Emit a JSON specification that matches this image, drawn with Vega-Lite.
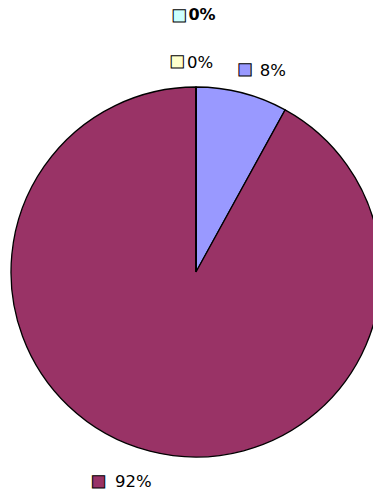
{
  "$schema": "https://vega.github.io/schema/vega-lite/v6.json",
  "autosize": "none",
  "width": 354,
  "height": 444,
  "padding": {"left": 19, "top": 50, "right": 0, "bottom": 0},
  "background": "white",
  "view": {"stroke": null},
  "data": {"values": [
    {"cat": "A", "value": 8, "idx": 1, "label": "8%"},
    {"cat": "B", "value": 92, "idx": 2, "label": "92%"},
    {"cat": "C", "value": 0, "idx": 3, "label": "0%"},
    {"cat": "D", "value": 0, "idx": 4, "label": "0%"}
  ]},
  "encoding": {
    "theta": {"field": "value", "type": "quantitative", "stack": true},
    "order": {"field": "idx", "type": "quantitative"},
    "color": {"field": "cat", "type": "nominal", "legend": null,
      "scale": {"domain": ["A", "B", "C", "D"], "range": ["#9999FF", "#993366", "#FFFFCC", "#CCFFFF"]}}
  },
  "layer": [
    {"mark": {"type": "arc", "outerRadius": 185, "stroke": "black", "strokeWidth": 1.3}},
    {"mark": {"type": "text", "radius": 208, "dx": 25, "dy": 0, "fill": "black", "font": "DejaVu Sans", "fontSize": 16.5, "align": "center", "baseline": "middle"},
     "encoding": {"text": {"condition": {"test": "datum.cat === 'A'", "field": "label"}, "value": ""}}},
    {"mark": {"type": "text", "radius": 208, "dx": -3, "dy": -2, "stroke": "black", "strokeWidth": 1, "font": "DejaVu Sans", "fontSize": 16, "align": "center", "baseline": "middle"},
     "encoding": {"text": {"condition": {"test": "datum.cat === 'A'", "value": "■"}, "value": ""}}},
    {"mark": {"type": "text", "radius": 216, "dx": -9, "dy": 1, "fill": "black", "font": "DejaVu Sans", "fontSize": 16.5, "align": "center", "baseline": "middle"},
     "encoding": {"text": {"condition": {"test": "datum.cat === 'B'", "field": "label"}, "value": ""}}},
    {"mark": {"type": "text", "radius": 216, "dx": -44, "dy": 0, "stroke": "black", "strokeWidth": 1, "font": "DejaVu Sans", "fontSize": 16, "align": "center", "baseline": "middle"},
     "encoding": {"text": {"condition": {"test": "datum.cat === 'B'", "value": "■"}, "value": ""}}},
    {"mark": {"type": "text", "radius": 209, "dx": 4, "dy": 0, "fill": "black", "font": "DejaVu Sans", "fontSize": 16.5, "align": "center", "baseline": "middle"},
     "encoding": {"text": {"condition": {"test": "datum.cat === 'C'", "field": "label"}, "value": ""}}},
    {"mark": {"type": "text", "radius": 209, "dx": -19, "dy": -2.5, "stroke": "black", "strokeWidth": 1, "font": "DejaVu Sans", "fontSize": 16, "align": "center", "baseline": "middle"},
     "encoding": {"text": {"condition": {"test": "datum.cat === 'C'", "value": "■"}, "value": ""}}},
    {"mark": {"type": "text", "radius": 257, "dx": 6, "dy": 0, "fill": "black", "font": "DejaVu Sans", "fontSize": 16, "fontWeight": "bold", "align": "center", "baseline": "middle"},
     "encoding": {"text": {"condition": {"test": "datum.cat === 'D'", "field": "label"}, "value": ""}}},
    {"mark": {"type": "text", "radius": 257, "dx": -17, "dy": 0, "stroke": "black", "strokeWidth": 1, "font": "DejaVu Sans", "fontSize": 16, "align": "center", "baseline": "middle"},
     "encoding": {"text": {"condition": {"test": "datum.cat === 'D'", "value": "■"}, "value": ""}}}
  ]
}
